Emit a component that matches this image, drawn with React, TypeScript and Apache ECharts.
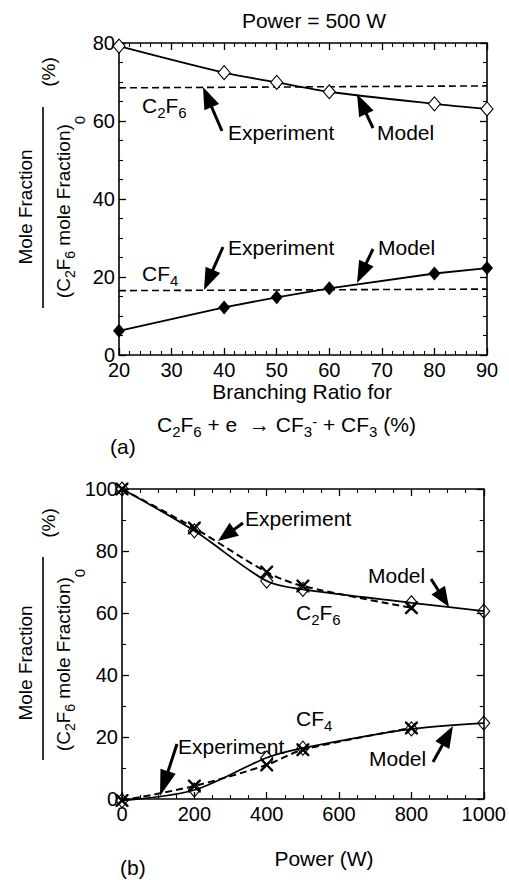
import React, { useEffect, useRef } from "react";
import * as echarts from "echarts";

// ---- Data (a): Power = 500 W, vs branching ratio ----
const branchRatio = [20, 40, 50, 60, 80, 90];
const c2f6ModelA = [79.2, 72.4, 69.9, 67.5, 64.4, 63.1];
const cf4ModelA = [6.2, 12.2, 14.8, 17.1, 20.9, 22.3];
const expRangeA = [20, 90];
const c2f6ExpA = [68.5, 69.0];
const cf4ExpA = [16.5, 16.9];

// ---- Data (b): vs power ----
const power = [0, 200, 400, 500, 800, 1000];
const c2f6ModelB = [100, 86.5, 70.3, 67.6, 63.3, 60.6];
const cf4ModelB = [-0.5, 2.9, 13.3, 16.4, 22.6, 24.5];
const powerExp = [0, 200, 400, 500, 800];
const c2f6ExpB = [100, 87.4, 73.2, 68.7, 61.7];
const cf4ExpB = [-0.5, 4.2, 11.0, 15.9, 22.9];

const xTicksA = { min: 20, max: 90, interval: 10 };
const yTicksA = { min: 0, max: 80, interval: 20 };
const xTicksB = { min: 0, max: 1000, interval: 200 };
const yTicksB = { min: 0, max: 100, interval: 20 };

const FONT = "'Liberation Sans', Arial, Helvetica, sans-serif";
const BLACK = "#000";

const zip = (xs: number[], ys: number[]) => xs.map((x, i) => [x, ys[i]]);

const X_SYMBOL =
  "path://M0,0 L1.3,0 L5,3.7 L8.7,0 L10,0 L10,1.3 L6.3,5 L10,8.7 L10,10 L8.7,10 L5,6.3 L1.3,10 L0,10 L0,8.7 L3.7,5 L0,1.3 Z";

function richStyles(fs: number) {
  return {
    n: { fontSize: fs, lineHeight: fs + 2, verticalAlign: "top", fontFamily: FONT, fill: BLACK },
    s: {
      fontSize: Math.round(fs * 0.72),
      lineHeight: Math.round(fs * 0.8),
      padding: [Math.round(fs * 0.48), 0, 0, 0],
      verticalAlign: "top",
      fontFamily: FONT,
      fill: BLACK,
    },
    z: {
      fontSize: Math.round(fs * 0.8),
      lineHeight: Math.round(fs * 0.85),
      padding: [Math.round(fs * 0.95), 0, 0, 0],
      verticalAlign: "top",
      fontFamily: FONT,
      fill: BLACK,
    },
    p: {
      fontSize: Math.round(fs * 0.72),
      lineHeight: Math.round(fs * 0.8),
      verticalAlign: "top",
      fontFamily: FONT,
      fill: BLACK,
    },
  };
}

function txt(text: string, x: number, y: number, fs = 21, align = "left", rotation = 0) {
  return {
    type: "text",
    x,
    y,
    rotation,
    silent: true,
    style: { text, fontSize: fs, fontFamily: FONT, fill: BLACK, align, verticalAlign: "middle" },
  };
}

function rich(text: string, x: number, y: number, fs = 21, align = "left", rotation = 0, va = "top") {
  return {
    type: "text",
    x,
    y,
    rotation,
    silent: true,
    style: { text, fontSize: fs, fontFamily: FONT, fill: BLACK, align, verticalAlign: va, rich: richStyles(fs) },
  };
}

function arrow(tail: number[], tip: number[], headLen = 20, headW = 7) {
  const dx = tip[0] - tail[0];
  const dy = tip[1] - tail[1];
  const L = Math.hypot(dx, dy);
  const ux = dx / L;
  const uy = dy / L;
  const hl = Math.min(headLen, L * 0.85);
  const bx = tip[0] - ux * hl;
  const by = tip[1] - uy * hl;
  const px = -uy;
  const py = ux;
  return [
    {
      type: "line",
      silent: true,
      shape: { x1: tail[0], y1: tail[1], x2: bx + ux * 2, y2: by + uy * 2 },
      style: { stroke: BLACK, lineWidth: 3 },
    },
    {
      type: "polygon",
      silent: true,
      shape: {
        points: [
          [tip[0], tip[1]],
          [bx + px * headW, by + py * headW],
          [bx - px * headW, by - py * headW],
        ],
      },
      style: { fill: BLACK },
    },
  ];
}

function axisPair(
  kind: "x" | "y",
  gridIndex: number,
  t: { min: number; max: number; interval: number },
  minorSplit: number
) {
  const common = {
    type: "value",
    gridIndex,
    min: t.min,
    max: t.max,
    interval: t.interval,
    axisLine: { show: true, onZero: false, lineStyle: { color: BLACK, width: 1.6 } },
    axisTick: { show: true, inside: true, length: 7, lineStyle: { color: BLACK, width: 1.3 } },
    minorTick: { show: true, splitNumber: minorSplit, length: 4, lineStyle: { color: BLACK, width: 1.1 } },
    splitLine: { show: false },
    minorSplitLine: { show: false },
  };
  const label = {
    show: true,
    color: BLACK,
    fontSize: 20,
    fontFamily: FONT,
    margin: kind === "x" ? 5 : 4,
    formatter: (v: number) => String(v),
  };
  return [
    { ...common, position: kind === "x" ? "bottom" : "left", axisLabel: label },
    { ...common, position: kind === "x" ? "top" : "right", axisLabel: { show: false } },
  ];
}

export default function App() {
  const ref = useRef<HTMLDivElement>(null);
  useEffect(() => {
    if (!ref.current) return;
    const chart = echarts.init(ref.current, undefined, { renderer: "svg" });

    const modelLine = { color: BLACK, width: 1.8, type: "solid" };
    const dashLine = { color: BLACK, width: 1.6, type: [7, 4] };
    const openDiamond = {
      symbol: "diamond",
      symbolSize: [12, 14],
      itemStyle: { color: "#fff", borderColor: BLACK, borderWidth: 1.1 },
    };

    const graphics: any[] = [
      txt("Power = 500 W", 314, 20, 21, "center"),
      // (a) annotations
      rich("{n|C}{s|2}{n|F}{s|6}", 142, 95),
      txt("Experiment", 228, 132),
      txt("Model", 377, 132),
      ...arrow([222, 131], [203, 87], 22, 8),
      ...arrow([373, 128], [357, 94], 22, 8),
      rich("{n|CF}{s|4}", 142, 263),
      txt("Experiment", 228, 247),
      txt("Model", 378, 247),
      ...arrow([223, 247], [204, 290], 22, 8),
      ...arrow([373, 249], [357, 283], 22, 8),
      txt("Branching Ratio for", 302, 391, 21, "center"),
      rich("{n|C}{s|2}{n|F}{s|6}{n| + e  → CF}{s|3}{p|-}{n| + CF}{s|3}{n| (%)}", 157, 414),
      txt("(a)", 110, 446),
      // (a) y title
      txt("Mole Fraction", 25, 207, 19, "center", Math.PI / 2),
      {
        type: "line",
        silent: true,
        shape: { x1: 43, y1: 107, x2: 43, y2: 308 },
        style: { stroke: BLACK, lineWidth: 1.6 },
      },
      rich("{n|(C}{s|2}{n|F}{s|6}{n| mole Fraction)}{z|0}", 64, 207, 19, "center", Math.PI / 2, "middle"),
      txt("(%)", 48, 72, 19, "center", Math.PI / 2),

      // (b) annotations
      txt("Experiment", 245, 518),
      ...arrow([243, 523], [218, 541], 20, 8),
      txt("Model", 368, 575),
      ...arrow([431, 579], [449, 607], 20, 8),
      rich("{n|C}{s|2}{n|F}{s|6}", 296, 602),
      rich("{n|CF}{s|4}", 296, 708),
      txt("Experiment", 178, 746),
      ...arrow([177, 744], [160, 796], 26, 8),
      txt("Model", 369, 758),
      ...arrow([433, 762], [453, 726], 22, 8),
      txt("Power (W)", 324, 858, 21, "center"),
      txt("(b)", 120, 867),
      // (b) y title
      txt("Mole Fraction", 25, 663, 19, "center", Math.PI / 2),
      {
        type: "line",
        silent: true,
        shape: { x1: 43, y1: 557, x2: 43, y2: 760 },
        style: { stroke: BLACK, lineWidth: 1.6 },
      },
      rich("{n|(C}{s|2}{n|F}{s|6}{n| mole Fraction)}{z|0}", 64, 660, 19, "center", Math.PI / 2, "middle"),
      txt("(%)", 48, 523, 19, "center", Math.PI / 2),
    ];

    const [xa0, xa1] = axisPair("x", 0, xTicksA, 5);
    const [ya0, ya1] = axisPair("y", 0, yTicksA, 4);
    const [xb0, xb1] = axisPair("x", 1, xTicksB, 4);
    const [yb0, yb1] = axisPair("y", 1, yTicksB, 2);

    chart.setOption({
      animation: false,
      backgroundColor: "#fff",
      textStyle: { fontFamily: FONT, color: BLACK },
      grid: [
        { left: 119, top: 43, width: 368, height: 312 },
        { left: 122, top: 489, width: 367, height: 310 },
      ],
      xAxis: [xa0, xa1, xb0, xb1],
      yAxis: [ya0, ya1, yb0, yb1],
      series: [
        {
          type: "line",
          xAxisIndex: 0,
          yAxisIndex: 0,
          data: zip(expRangeA, c2f6ExpA),
          showSymbol: false,
          lineStyle: dashLine,
          clip: false,
          z: 2,
        },
        {
          type: "line",
          xAxisIndex: 0,
          yAxisIndex: 0,
          data: zip(expRangeA, cf4ExpA),
          showSymbol: false,
          lineStyle: dashLine,
          clip: false,
          z: 2,
        },
        {
          type: "line",
          xAxisIndex: 0,
          yAxisIndex: 0,
          data: zip(branchRatio, c2f6ModelA),
          smooth: 0.3,
          lineStyle: modelLine,
          ...openDiamond,
          clip: false,
          z: 3,
        },
        {
          type: "line",
          xAxisIndex: 0,
          yAxisIndex: 0,
          data: zip(branchRatio, cf4ModelA),
          symbol: "diamond",
          symbolSize: [12, 14],
          itemStyle: { color: BLACK },
          lineStyle: modelLine,
          clip: false,
          z: 3,
        },
        // (b)
        {
          type: "line",
          xAxisIndex: 2,
          yAxisIndex: 2,
          data: zip(powerExp, c2f6ExpB),
          smooth: 0.3,
          symbol: X_SYMBOL,
          symbolSize: 13,
          itemStyle: { color: BLACK },
          lineStyle: { ...dashLine, width: 2 },
          clip: false,
          z: 2,
        },
        {
          type: "line",
          xAxisIndex: 2,
          yAxisIndex: 2,
          data: zip(powerExp, cf4ExpB),
          smooth: 0.3,
          symbol: X_SYMBOL,
          symbolSize: 13,
          itemStyle: { color: BLACK },
          lineStyle: { ...dashLine, width: 2 },
          clip: false,
          z: 2,
        },
        {
          type: "line",
          xAxisIndex: 2,
          yAxisIndex: 2,
          data: zip(power, c2f6ModelB),
          smooth: 0.3,
          lineStyle: modelLine,
          ...openDiamond,
          itemStyle: { color: "transparent", borderColor: BLACK, borderWidth: 1.1 },
          clip: false,
          z: 3,
        },
        {
          type: "line",
          xAxisIndex: 2,
          yAxisIndex: 2,
          data: zip(power, cf4ModelB),
          smooth: 0.3,
          lineStyle: modelLine,
          ...openDiamond,
          itemStyle: { color: "transparent", borderColor: BLACK, borderWidth: 1.1 },
          clip: false,
          z: 3,
        },
      ],
      graphic: { elements: graphics },
    });

    return () => chart.dispose();
  }, []);

  return (
    <div
      ref={ref}
      style={{ position: "absolute", left: 0, top: 0, width: 509, height: 880, background: "#fff" }}
    />
  );
}
